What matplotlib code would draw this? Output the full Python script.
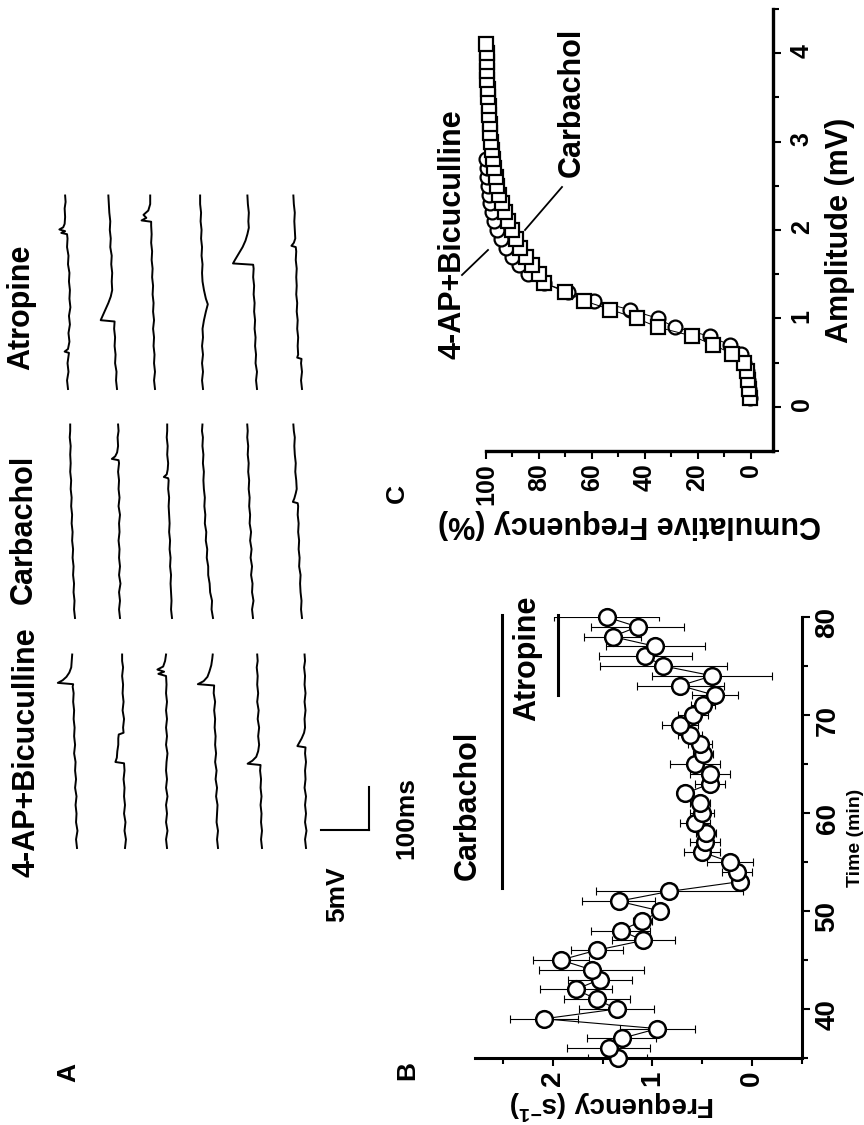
import matplotlib
matplotlib.use("Agg")
import matplotlib.pyplot as plt
import numpy as np

plt.rcParams['font.family'] = ['Liberation Sans', 'DejaVu Sans']
plt.rcParams['font.weight'] = 'bold'
plt.rcParams['axes.labelweight'] = 'bold'
plt.rcParams['mathtext.fontset'] = 'custom'
plt.rcParams['mathtext.rm'] = 'Liberation Sans:bold'
plt.rcParams['mathtext.default'] = 'rm'

# ---------------- data ----------------
# panel A: sample sweeps, (time ms, mV relative to sweep start)
ap_traces = [
    [(0,0.0),(20,0.1),(40,-0.05),(60,0.1),(80,0.05),(100,0.15),(120,0.05),(140,0.2),(160,0.1),(180,0.2),(200,0.15),(220,0.3),(240,0.2),(260,0.3),(280,0.25),(300,0.35),(320,0.3),(340,0.4),(360,0.35),(375,0.45),(381,0.4),(384,2.0),(390,1.5),(398,1.1),(408,0.8),(420,0.6),(435,0.55),(450,0.5)],
    [(0,0.0),(20,-0.1),(40,0.05),(60,-0.05),(80,0.1),(100,0.0),(120,0.1),(140,0.05),(160,0.15),(180,0.05),(197,0.1),(200,1.0),(210,0.85),(225,0.8),(240,0.7),(255,0.7),(264,0.65),(268,0.15),(280,0.2),(300,0.1),(320,0.25),(340,0.15),(360,0.25),(380,0.2),(400,0.3),(420,0.2),(435,0.3),(450,0.3)],
    [(0,0.0),(20,0.1),(40,-0.05),(60,0.1),(80,0.0),(100,0.1),(120,-0.05),(140,0.1),(160,0.0),(180,0.1),(200,0.05),(220,-0.05),(240,0.1),(260,0.0),(280,0.1),(300,0.0),(320,0.1),(340,0.0),(360,0.1),(380,0.05),(400,0.1),(405,0.9),(410,0.3),(415,1.0),(422,0.4),(435,0.2),(450,0.1)],
    [(0,0.0),(20,0.1),(40,0.0),(60,0.15),(80,0.1),(100,0.05),(120,0.2),(140,0.1),(160,0.25),(180,0.15),(200,0.3),(220,0.2),(240,0.3),(260,0.25),(280,0.35),(300,0.3),(320,0.4),(340,0.3),(360,0.45),(378,0.4),(381,2.1),(388,1.5),(398,1.1),(410,0.9),(425,0.7),(440,0.6),(450,0.55)],
    [(0,0.0),(20,0.1),(40,0.0),(60,0.1),(80,0.05),(100,0.15),(120,0.05),(140,0.15),(160,0.1),(180,0.2),(193,0.15),(196,1.5),(203,1.0),(212,0.6),(225,0.4),(240,0.3),(260,0.4),(280,0.3),(300,0.45),(320,0.35),(340,0.5),(360,0.4),(380,0.5),(400,0.45),(420,0.55),(435,0.45),(450,0.5)],
    [(0,0.0),(20,0.1),(40,-0.05),(60,0.1),(80,0.0),(100,0.1),(120,0.0),(140,0.15),(160,0.05),(180,0.1),(200,0.0),(220,0.1),(234,0.05),(237,0.9),(245,0.7),(255,0.45),(268,0.2),(280,0.1),(300,0.15),(320,0.05),(340,0.15),(360,0.05),(380,0.15),(400,0.1),(420,0.2),(435,0.1),(450,0.15)],
]
carb_traces = [
    [(0,0.0),(20,0.1),(40,0.05),(60,0.15),(80,0.1),(100,0.2),(120,0.15),(140,0.25),(160,0.2),(180,0.3),(200,0.25),(220,0.35),(240,0.3),(260,0.4),(280,0.35),(300,0.45),(320,0.4),(340,0.5),(360,0.45),(380,0.5),(400,0.45),(420,0.55),(435,0.5),(450,0.5)],
    [(0,0.0),(20,0.1),(40,0.0),(60,0.1),(80,-0.05),(100,0.1),(120,0.0),(140,0.1),(160,0.05),(180,0.15),(200,0.05),(220,0.1),(240,0.0),(260,0.15),(280,0.05),(300,0.15),(320,0.1),(340,0.2),(360,0.1),(367,0.15),(370,0.85),(376,0.5),(385,0.3),(400,0.2),(420,0.25),(435,0.15),(450,0.2)],
    [(0,0.0),(20,0.1),(40,0.05),(60,0.1),(80,0.15),(100,0.1),(120,0.2),(140,0.15),(160,0.25),(180,0.2),(200,0.3),(220,0.25),(240,0.3),(260,0.35),(280,0.3),(300,0.4),(320,0.35),(325,0.4),(328,0.85),(334,0.55),(345,0.45),(360,0.4),(380,0.5),(400,0.45),(420,0.55),(435,0.5),(450,0.5)],
    [(0,0.0),(20,0.15),(40,0.1),(60,0.3),(80,0.35),(100,0.5),(120,0.5),(140,0.65),(160,0.6),(180,0.75),(200,0.7),(220,0.85),(240,0.8),(260,0.9),(280,0.85),(300,0.95),(320,1.0),(340,0.95),(360,1.05),(380,1.0),(400,1.1),(420,1.05),(435,1.15),(450,1.1)],
    [(0,0.0),(20,0.1),(40,-0.05),(60,0.1),(80,0.05),(100,0.2),(120,0.1),(140,0.25),(160,0.15),(180,0.3),(200,0.2),(220,0.35),(240,0.3),(260,0.4),(280,0.35),(300,0.45),(320,0.4),(340,0.5),(360,0.45),(380,0.55),(400,0.5),(420,0.6),(435,0.55),(450,0.6)],
    [(0,0.0),(20,0.1),(40,0.05),(60,0.15),(80,0.2),(100,0.15),(120,0.3),(140,0.25),(160,0.35),(180,0.3),(200,0.4),(220,0.35),(240,0.45),(260,0.4),(267,0.45),(270,0.95),(278,0.8),(290,0.65),(300,0.55),(320,0.6),(340,0.7),(360,0.65),(380,0.75),(400,0.8),(420,0.75),(435,0.85),(450,0.9)],
]
atro_traces = [
    [(0,0.0),(20,0.1),(40,-0.05),(60,0.05),(84,-0.1),(87,0.35),(93,0.0),(110,-0.15),(130,-0.05),(150,-0.2),(170,-0.1),(190,-0.25),(210,-0.15),(230,-0.2),(250,-0.1),(270,-0.15),(290,0.0),(310,-0.05),(330,0.1),(350,0.05),(360,0.1),(363,0.7),(367,0.3),(371,0.9),(376,0.5),(384,0.35),(400,0.3),(420,0.35),(435,0.25),(450,0.3)],
    [(0,0.0),(20,0.1),(40,0.05),(60,0.2),(80,0.15),(100,0.25),(120,0.2),(140,0.3),(157,0.25),(160,1.7),(170,1.5),(185,1.2),(200,0.9),(215,0.65),(230,0.5),(250,0.55),(270,0.5),(290,0.6),(310,0.55),(330,0.7),(350,0.65),(370,0.75),(390,0.7),(410,0.8),(430,0.85),(450,0.9)],
    [(0,0.0),(20,0.1),(40,0.0),(60,0.1),(80,0.05),(100,0.15),(120,0.1),(140,0.2),(160,0.1),(180,0.2),(200,0.15),(220,0.25),(240,0.2),(260,0.3),(280,0.25),(300,0.35),(320,0.3),(340,0.4),(360,0.35),(380,0.4),(389,0.4),(392,1.4),(398,0.9),(405,1.2),(415,0.7),(430,0.5),(450,0.5)],
    [(0,0.0),(20,0.1),(40,0.0),(60,0.1),(80,0.0),(100,0.1),(120,0.0),(140,0.05),(160,-0.1),(180,-0.3),(197,-0.5),(210,-0.3),(230,-0.1),(250,0.05),(270,0.1),(290,0.05),(310,0.15),(330,0.1),(350,0.2),(370,0.15),(390,0.25),(410,0.2),(430,0.3),(450,0.3)],
    [(0,0.0),(20,0.1),(40,0.0),(60,0.15),(80,0.1),(100,0.2),(120,0.15),(140,0.25),(160,0.2),(180,0.3),(200,0.25),(220,0.35),(240,0.3),(260,0.4),(280,0.35),(289,0.4),(292,2.5),(300,2.3),(315,1.9),(330,1.5),(345,1.2),(360,1.0),(375,0.85),(390,0.9),(410,0.85),(430,0.95),(450,1.0)],
    [(0,0.0),(20,0.1),(40,0.0),(60,0.1),(70,0.05),(73,0.5),(80,0.4),(100,0.45),(120,0.4),(140,0.5),(160,0.45),(180,0.55),(200,0.5),(220,0.6),(240,0.55),(260,0.6),(280,0.55),(300,0.65),(320,0.6),(330,0.65),(333,1.1),(340,0.85),(350,0.7),(370,0.75),(390,0.8),(410,0.75),(430,0.85),(450,0.9)],
]
conditions = ['4-AP+Bicuculline', 'Carbachol', 'Atropine']

# panel B: mEPSP frequency over time
time_b = np.arange(35, 81)
freq_b = [1.35, 1.44, 1.31, 0.95, 2.09, 1.36, 1.56, 1.77, 1.53, 1.61, 1.92, 1.56,
          1.09, 1.32, 1.10, 0.92, 1.34, 0.83, 0.12, 0.15, 0.22, 0.50, 0.47, 0.46,
          0.57, 0.50, 0.52, 0.67, 0.42, 0.42, 0.57, 0.49, 0.52, 0.62, 0.72, 0.59,
          0.49, 0.37, 0.72, 0.40, 0.89, 1.07, 0.97, 1.40, 1.15, 1.46]
err_b = [0.30, 0.42, 0.35, 0.38, 0.34, 0.38, 0.33, 0.36, 0.32, 0.53, 0.28, 0.26,
         0.32, 0.30, 0.10, 0.06, 0.37, 0.74, 0.07, 0.15, 0.23, 0.18, 0.15, 0.10,
         0.15, 0.12, 0.10, 0.08, 0.15, 0.20, 0.25, 0.10, 0.12, 0.12, 0.18, 0.15,
         0.12, 0.23, 0.44, 0.60, 0.64, 0.47, 0.50, 0.29, 0.47, 0.53]
carb_period = (52.3, 80.2)
atro_period = (72.0, 80.2)

# panel C: cumulative amplitude distributions
amp_carb = np.round(np.arange(0.1, 4.15, 0.1), 2)
cum_carb = [0.3, 0.5, 0.8, 1.2, 2.5, 7, 14, 22, 35, 43, 53, 63, 70, 78, 80, 82.5,
            85, 87, 88.5, 90, 91.5, 93, 94, 95, 95.7, 96.3, 96.8, 97.3, 97.7, 98,
            98.3, 98.6, 98.8, 99, 99.2, 99.4, 99.5, 99.6, 99.7, 99.8, 100]
amp_ctrl = np.round(np.arange(0.1, 2.85, 0.1), 2)
cum_ctrl = [0.3, 0.5, 0.8, 1.5, 2.5, 3.5, 7.9, 15.5, 28.7, 35, 45.7, 59, 69, 78,
            84, 87.5, 90, 92.5, 94.5, 96, 97, 97.8, 98.4, 98.9, 99.3, 99.6, 99.8, 100]

# ---------------- figure ----------------
W, H = 864, 1125
fig = plt.figure(figsize=(W / 100, H / 100), dpi=100)

def fx(x):
    return x / W

def fy(y):
    return 1 - y / H

# ---- panel A (rotated traces) ----
PX_MV, PX_MS = 9.6, 0.43
axA = fig.add_axes([0, 0, 430 / W, 1])
axA.set_xlim(430 / PX_MV, 0)
axA.set_ylim(0, H / PX_MS)
axA.axis('off')

col_start = [848, 618, 389]           # image y of sweep start
row_x = [[77, 125, 167, 218, 262, 306],
         [75, 120, 172, 213, 253, 302],
         [68, 117, 155, 203, 257, 302]]
for c, traces in enumerate([ap_traces, carb_traces, atro_traces]):
    t0 = (H - col_start[c]) / PX_MS
    for r, tr in enumerate(traces):
        t = np.array([p[0] for p in tr]) + t0
        v = np.array([p[1] for p in tr]) + (430 - row_x[c][r]) / PX_MV
        axA.plot(v, t, color='k', lw=1.4)

# scale bar 5 mV / 100 ms
v0 = (430 - 369) / PX_MV
t0 = (H - 830) / PX_MS
axA.plot([v0, v0], [t0, t0 + 100], color='k', lw=1.5)
axA.plot([v0, v0 + 5], [t0, t0], color='k', lw=1.5)
fig.text(fx(337), fy(894), '5mV', rotation=90, ha='center', va='center', fontsize=19)
fig.text(fx(406), fy(818), '100ms', rotation=90, ha='center', va='center', fontsize=19)

for name, (x, y) in zip(conditions, [(27, 752), (24, 529), (21, 307)]):
    fig.text(fx(x), fy(y), name, rotation=90, ha='center', va='center', fontsize=22)

fig.text(fx(68), fy(1072), 'A', rotation=90, ha='center', va='center', fontsize=19)
fig.text(fx(407), fy(1070), 'B', rotation=90, ha='center', va='center', fontsize=19)
fig.text(fx(397), fy(493), 'C', rotation=90, ha='center', va='center', fontsize=19)

# ---- panel B ----
axB = fig.add_axes([fx(475), fy(1058), 327 / W, 441 / H])
axB.plot(freq_b, time_b, '-', color='k', lw=0.8, zorder=2)
axB.errorbar(freq_b, time_b, xerr=err_b, fmt='none', ecolor='k', elinewidth=0.8,
             capsize=3, capthick=0.8, zorder=1)
axB.plot(freq_b, time_b, 'o', mfc='white', mec='k', ms=12, mew=1.8, zorder=3,
         clip_on=False)
axB.set_xlim(2.78, -0.5)
axB.set_ylim(35, 80)
for s in ['top', 'left']:
    axB.spines[s].set_visible(False)
for s in ['bottom', 'right']:
    axB.spines[s].set_linewidth(2.2)
axB.yaxis.tick_right()
axB.set_xticks([0, 1, 2])
axB.set_xticks([-0.5, 0.5, 1.5, 2.5], minor=True)
axB.set_yticks([40, 50, 60, 70, 80])
axB.set_yticks([35, 45, 55, 65, 75], minor=True)
axB.tick_params(which='both', direction='out', width=1.5, labelsize=20)
axB.tick_params(which='major', length=6)
axB.tick_params(which='minor', length=4)
axB.tick_params(axis='y', labelrotation=90, pad=3)
axB.tick_params(axis='x', labelrotation=90, pad=3)
axB.set_xlabel('Frequency (s$^{-1}$)', rotation=180, fontsize=20)
axB.xaxis.label.set_va('center')
axB.xaxis.set_label_coords(0.42, -0.106)
axB.yaxis.set_label_position('right')
axB.set_ylabel('Time (min)', rotation=90, fontsize=14)
axB.yaxis.label.set_va('center')
axB.yaxis.set_label_coords(1.163, 0.5)

for per, xf in [(carb_period, 2.51), (atro_period, 1.95)]:
    axB.plot([xf, xf], per, color='k', lw=2.2, clip_on=False)
axB.text(2.85, 60.8, 'Carbachol', rotation=90, ha='center', va='center',
         fontsize=22, clip_on=False)
axB.text(2.26, 75.8, 'Atropine', rotation=90, ha='center', va='center',
         fontsize=22, clip_on=False)

# ---- panel C ----
axC = fig.add_axes([fx(486), fy(451), 287 / W, 442 / H])
axC.set_xlim(100, -8.5)
axC.set_ylim(-0.5, 4.5)
axC.plot(cum_ctrl, amp_ctrl, '-', color='k', lw=0.7, zorder=2)
axC.plot(cum_ctrl, amp_ctrl, 'o', mfc='white', mec='k', ms=10, mew=1.6, zorder=3,
         clip_on=False)
axC.plot(cum_carb, amp_carb, '-', color='k', lw=0.7, zorder=4)
axC.plot(cum_carb, amp_carb, 's', mfc='white', mec='k', ms=9.5, mew=1.6, zorder=5,
         clip_on=False)
for s in ['top', 'left']:
    axC.spines[s].set_visible(False)
for s in ['bottom', 'right']:
    axC.spines[s].set_linewidth(2.4)
axC.yaxis.tick_right()
axC.set_xticks([0, 20, 40, 60, 80, 100])
axC.set_xticks([10, 30, 50, 70, 90], minor=True)
axC.set_yticks([0, 1, 2, 3, 4])
axC.set_yticks([-0.5, 0.5, 1.5, 2.5, 3.5, 4.5], minor=True)
axC.tick_params(which='both', direction='out', width=1.5, labelsize=18)
axC.tick_params(which='major', length=6)
axC.tick_params(which='minor', length=4)
axC.tick_params(axis='y', labelrotation=90, pad=6)
axC.tick_params(axis='x', labelrotation=90, pad=3)
axC.set_xlabel('Cumulative Frequency (%)', rotation=180, fontsize=22)
axC.xaxis.label.set_va('center')
axC.xaxis.set_label_coords(0.5, -0.165)
axC.yaxis.set_label_position('right')
axC.set_ylabel('Amplitude (mV)', rotation=90, fontsize=22)
axC.yaxis.label.set_va('center')
axC.yaxis.set_label_coords(1.233, 0.5)

def cdata(x, y):
    return 100 - (x - 486) / 2.645, 4.5 - (y - 9) / 88.4

for (xa, ya), (xb, yb) in [((562, 187), (525, 230)), ((462, 275), (488, 250))]:
    p, q = cdata(xa, ya), cdata(xb, yb)
    axC.plot([p[0], q[0]], [p[1], q[1]], color='k', lw=1.3, clip_on=False)
tx, ty = cdata(572, 102)
axC.text(tx, ty, 'Carbachol', rotation=90, ha='center', va='center', fontsize=22)
tx, ty = cdata(453, 234)
axC.text(tx, ty, '4-AP+Bicuculline', rotation=90, ha='center', va='center',
         fontsize=22, clip_on=False)

fig.savefig('out.png', dpi=100)
